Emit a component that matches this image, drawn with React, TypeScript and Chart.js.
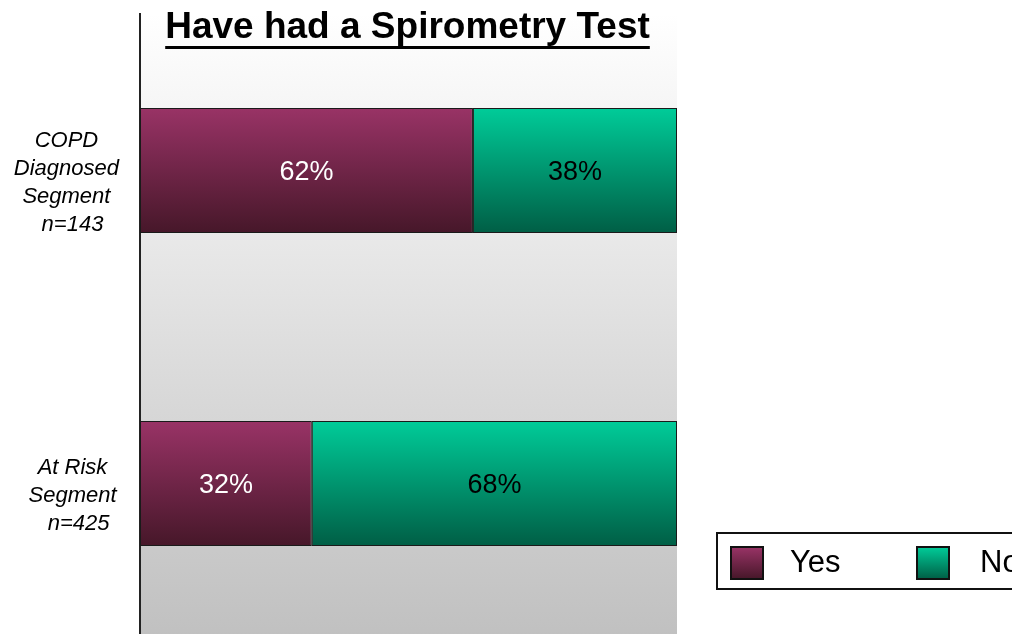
import React, { useEffect, useRef } from "react";
import { Chart, registerables } from "chart.js";

Chart.register(...registerables);

const TITLE = "Have had a Spirometry Test";
const CATEGORIES: string[][] = [
  ["COPD", "Diagnosed", "Segment", "  n=143"],
  ["  At Risk", "  Segment", "    n=425"],
];
const SERIES_LABELS = ["Yes", "No"];
const YES_VALUES = [62, 32];
const NO_VALUES = [38, 68];
const YES_COLORS = ["#993366", "#461729"];
const NO_COLORS = ["#00cc99", "#005e45"];
const FONT = "Arial, 'Liberation Sans', Helvetica, sans-serif";
const BAR_FRACTION = 0.4;

function barGradient(colors: string[]) {
  return (ctx: any) => {
    const chart = ctx.chart;
    const yScale = chart.scales?.y;
    if (!chart.chartArea || !yScale || ctx.dataIndex == null) return colors[0];
    const n = chart.data.labels.length;
    const band = (yScale.height / n) * BAR_FRACTION;
    const c = yScale.getPixelForValue(ctx.dataIndex);
    const g = chart.ctx.createLinearGradient(0, c - band / 2, 0, c + band / 2);
    g.addColorStop(0, colors[0]);
    g.addColorStop(1, colors[1]);
    return g;
  };
}

const backgroundPlugin = {
  id: "plotBackground",
  beforeDraw(chart: any) {
    const { ctx, chartArea } = chart;
    ctx.save();
    ctx.fillStyle = "#ffffff";
    ctx.fillRect(0, 0, chart.width, chart.height);
    const g = ctx.createLinearGradient(0, chartArea.top, 0, chartArea.bottom);
    g.addColorStop(0, "#ffffff");
    g.addColorStop(1, "#c0c0c0");
    ctx.fillStyle = g;
    ctx.fillRect(chartArea.left, chartArea.top, chartArea.right - chartArea.left, chartArea.bottom - chartArea.top);
    ctx.restore();
  },
};

const valueLabelPlugin = {
  id: "valueLabels",
  afterDatasetsDraw(chart: any) {
    const c = chart.ctx;
    chart.data.datasets.forEach((ds: any, i: number) => {
      const meta = chart.getDatasetMeta(i);
      meta.data.forEach((el: any, j: number) => {
        const { x, y, base } = el.getProps(["x", "y", "base"], true);
        c.save();
        c.fillStyle = i === 0 ? "#ffffff" : "#000000";
        c.font = `27px ${FONT}`;
        c.textAlign = "center";
        c.textBaseline = "middle";
        c.fillText(`${ds.data[j]}%`, (x + base) / 2, y + 2);
        c.restore();
      });
    });
  },
};

const titlePlugin = {
  id: "underlinedTitle",
  afterDraw(chart: any) {
    const c = chart.ctx;
    const { left, right } = chart.chartArea;
    const cx = (left + right) / 2 - 1;
    c.save();
    c.font = `bold 37px ${FONT}`;
    c.fillStyle = "#000000";
    c.textAlign = "center";
    c.textBaseline = "alphabetic";
    c.fillText(TITLE, cx, 38);
    const w = c.measureText(TITLE).width;
    c.fillRect(cx - w / 2, 46, w, 3);
    c.restore();
  },
};

const legendPlugin = {
  id: "boxLegend",
  afterDraw(chart: any) {
    const c = chart.ctx;
    c.save();
    c.fillStyle = "#ffffff";
    c.fillRect(717, 533, 420, 56);
    c.lineWidth = 2;
    c.strokeStyle = "#111111";
    c.strokeRect(717, 533, 420, 56);
    const items = [
      { x: 731, tx: 790, colors: YES_COLORS },
      { x: 917, tx: 980, colors: NO_COLORS },
    ];
    chart.data.datasets.forEach((ds: any, i: number) => {
      const it = items[i];
      const g = c.createLinearGradient(0, 547, 0, 579);
      g.addColorStop(0, it.colors[0]);
      g.addColorStop(1, it.colors[1]);
      c.fillStyle = g;
      c.fillRect(it.x, 547, 32, 32);
      c.strokeStyle = "#111111";
      c.lineWidth = 2;
      c.strokeRect(it.x, 547, 32, 32);
      c.fillStyle = "#000000";
      c.font = `31px ${FONT}`;
      c.textAlign = "left";
      c.textBaseline = "middle";
      c.fillText(ds.label, it.tx, 563);
    });
    c.restore();
  },
};

export default function App() {
  const ref = useRef<HTMLCanvasElement | null>(null);
  useEffect(() => {
    if (!ref.current) return;
    const chart = new Chart(ref.current, {
      type: "bar",
      data: {
        labels: CATEGORIES as any,
        datasets: [
          {
            label: SERIES_LABELS[0],
            data: YES_VALUES,
            backgroundColor: barGradient(YES_COLORS),
            borderColor: "#1a1a1a",
            borderWidth: 1,
            borderSkipped: false,
          },
          {
            label: SERIES_LABELS[1],
            data: NO_VALUES,
            backgroundColor: barGradient(NO_COLORS),
            borderColor: "#1a1a1a",
            borderWidth: 1,
            borderSkipped: false,
          },
        ],
      },
      options: {
        indexAxis: "y",
        responsive: false,
        animation: false,
        devicePixelRatio: 1,
        layout: { padding: { top: 14, right: 335, left: 0, bottom: 0 } },
        datasets: { bar: { categoryPercentage: 1, barPercentage: BAR_FRACTION } },
        plugins: { legend: { display: false }, tooltip: { enabled: false }, title: { display: false } },
        scales: {
          x: { stacked: true, min: 0, max: 100, display: false },
          y: {
            stacked: true,
            grid: { display: false, drawTicks: false, tickLength: 0 },
            border: { display: true, color: "#222222", width: 2 },
            ticks: {
              crossAlign: "center",
              padding: 21,
              labelOffset: 12,
              color: "#000000",
              font: { family: FONT, size: 22, style: "italic", lineHeight: 1.27 },
            },
            afterFit(scale: any) {
              scale.width = 140;
              scale.paddingTop = 0;
              scale.paddingBottom = 0;
            },
          },
        },
      } as any,
      plugins: [backgroundPlugin, valueLabelPlugin, titlePlugin, legendPlugin],
    });
    return () => chart.destroy();
  }, []);
  return (
    <div style={{ position: "fixed", left: 0, top: 0, width: 1012, height: 634, overflow: "hidden", background: "#fff" }}>
      <canvas ref={ref} width={1012} height={640} style={{ display: "block" }} />
    </div>
  );
}
